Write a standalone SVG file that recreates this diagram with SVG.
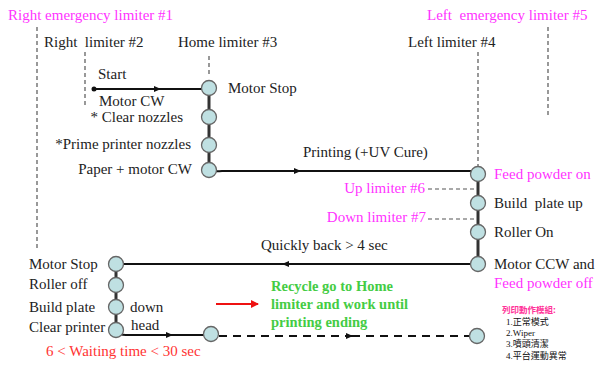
<svg xmlns="http://www.w3.org/2000/svg" width="596" height="365" viewBox="0 0 596 365">
<style>
text{font-family:"Liberation Serif","Times New Roman",serif;font-size:15px;fill:#222;white-space:pre}
.m{fill:#ff33ff}
.r{fill:#ff3333}
.g{fill:#44cc44;font-weight:bold;font-size:14.5px}
.e{text-anchor:end}
.cj{font-family:"Liberation Serif","Noto Sans CJK TC",serif;font-size:9px;fill:#111}
.ct{font-family:"Noto Sans CJK TC",sans-serif;font-size:8.5px;fill:#ff3399;font-weight:bold}
.dash{stroke:#555;stroke-width:1.2;stroke-dasharray:4,3;fill:none}
.link{stroke:#333;stroke-width:3;fill:none}
.ln{stroke:#111;stroke-width:2;fill:none}
.nd{fill:#bfe0e2;stroke:#666;stroke-width:1.3}
</style>
<defs>
<marker id="ar" markerWidth="8" markerHeight="6" refX="6" refY="3" orient="auto" markerUnits="userSpaceOnUse"><path d="M0,0 L7,3 L0,6 z" fill="#111"/></marker>
<marker id="rr" markerWidth="8" markerHeight="8" refX="7" refY="4" orient="auto" markerUnits="userSpaceOnUse"><path d="M0,0 L8,4 L0,8 z" fill="#ee1111"/></marker>
</defs>

<g id="limiters">
<text x="8" y="20" class="m">Right emergency limiter #1</text>
<line x1="37" y1="27" x2="37" y2="248" class="dash"/>
<text x="44" y="47" xml:space="preserve">Right  limiter #2</text>
<line x1="85" y1="52" x2="85" y2="106" class="dash"/>
<text x="178" y="47">Home limiter #3</text>
<line x1="209" y1="56" x2="209" y2="74" class="dash"/>
<text x="427" y="20" class="m" xml:space="preserve">Left  emergency limiter #5</text>
<line x1="548" y1="27" x2="548" y2="118" class="dash"/>
<text x="408" y="47">Left limiter #4</text>
<line x1="478" y1="52" x2="478" y2="168" class="dash"/>
<text x="425" y="193" class="m e">Up limiter #6</text>
<line x1="428" y1="189" x2="476" y2="189" class="dash"/>
<text x="426" y="222" class="m e">Down limiter #7</text>
<line x1="428" y1="219" x2="476" y2="219" class="dash"/>
</g>

<g id="connectors">
<circle cx="94" cy="89" r="2.5" fill="#111"/>
<path d="M94,89 H160" class="ln" marker-end="url(#ar)"/>
<path d="M158,89 H209" class="ln"/>
<path d="M209,89 V170" class="link"/>
<path d="M209,170 Q214,172 222,171 H300" class="ln" marker-end="url(#ar)"/>
<path d="M298,171 H478" class="ln"/>
<path d="M478,174 V264" class="link"/>
<path d="M478,264 H283" class="ln" marker-end="url(#ar)"/>
<path d="M285,264 H116" class="ln"/>
<path d="M116,264 V330" class="link"/>
<path d="M116,330 Q119,335 126,335 H172" class="ln" marker-end="url(#ar)"/>
<path d="M170,335 H211" class="ln"/>
<path d="M219,336 H352" class="ln" stroke-dasharray="8,6" stroke="#333" marker-end="url(#ar)"/>
<path d="M352,336 H470" class="ln" stroke-dasharray="8,6" stroke="#333"/>
<path d="M216,304 H258" stroke="#ee1111" stroke-width="2" fill="none" marker-end="url(#rr)"/>
</g>

<g id="n-home">
<circle cx="209" cy="88" r="7.5" class="nd"/>
<text x="228" y="93">Motor Stop</text>
<text x="98" y="79">Start</text>
<text x="99" y="106">Motor CW</text>
</g>
<g id="n-clear"><circle cx="209" cy="117" r="7.5" class="nd"/><text x="183" y="122" class="e">* Clear nozzles</text></g>
<g id="n-prime"><circle cx="209" cy="145" r="7.5" class="nd"/><text x="191" y="149" class="e">*Prime printer nozzles</text></g>
<g id="n-paper"><circle cx="209" cy="170" r="7.5" class="nd"/><text x="192" y="174" class="e">Paper + motor CW</text>
<text x="303" y="157">Printing (+UV Cure)</text></g>

<g id="n-feed"><circle cx="478" cy="174" r="7.5" class="nd"/><text x="494" y="179" class="m">Feed powder on</text></g>
<g id="n-build"><circle cx="478" cy="203" r="7.5" class="nd"/><text x="494" y="208" xml:space="preserve">Build  plate up</text></g>
<g id="n-roller"><circle cx="478" cy="232" r="7.5" class="nd"/><text x="494" y="237">Roller On</text></g>
<g id="n-ccw"><circle cx="478" cy="264" r="7.5" class="nd"/><text x="494" y="269">Motor CCW and</text><text x="494" y="288" class="m">Feed powder off</text>
<text x="261" y="250">Quickly back &gt; 4 sec</text></g>

<g id="n-stop2"><circle cx="116" cy="264" r="7.5" class="nd"/><text x="29" y="269">Motor Stop</text></g>
<g id="n-rolleroff"><circle cx="116" cy="285" r="7.5" class="nd"/><text x="29" y="289">Roller off</text></g>
<g id="n-down"><circle cx="116" cy="307" r="7.5" class="nd"/><text x="29" y="312">Build plate</text><text x="130" y="312">down</text></g>
<g id="n-head"><circle cx="116" cy="330" r="7.5" class="nd"/><text x="29" y="332">Clear printer</text><text x="131" y="330">head</text>
<text x="46" y="356" class="r">6 &lt; Waiting time &lt; 30 sec</text></g>
<g id="n-b1"><circle cx="211" cy="334" r="7.5" class="nd"/></g>
<g id="n-b2"><circle cx="477" cy="336" r="7.5" class="nd"/></g>

<g id="recycle">
<text x="271" y="291" class="g">Recycle go to Home</text>
<text x="271" y="309" class="g">limiter and work until</text>
<text x="271" y="327" class="g">printing ending</text>
</g>

<g id="legend">
<text x="502" y="313" class="ct">列印動作模組:</text>
<text x="506" y="325" class="cj">1.正常模式</text>
<text x="506" y="336" class="cj">2.Wiper</text>
<text x="506" y="347" class="cj">3.噴頭清潔</text>
<text x="506" y="359" class="cj">4.平台運動異常</text>
</g>
</svg>
